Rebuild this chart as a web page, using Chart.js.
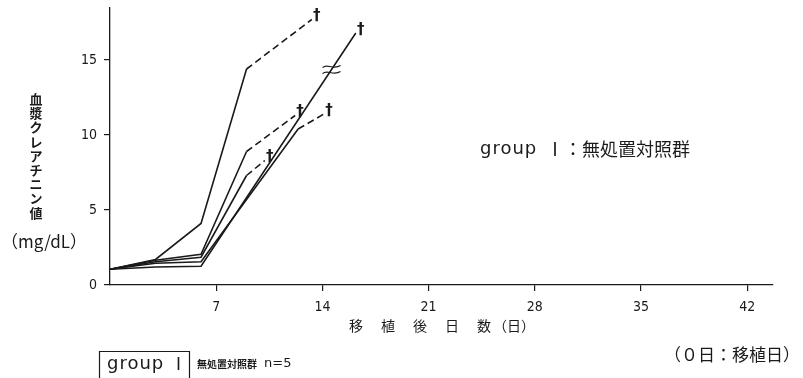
<!DOCTYPE html>
<html>
<head>
<meta charset="utf-8">
<script src="https://cdn.jsdelivr.net/npm/chart.js@4.4.1/dist/chart.umd.min.js"></script>
<style>
  html, body { margin: 0; padding: 0; background: #fff; }
  #wrap { width: 803px; height: 378px; position: relative; }
</style>
</head>
<body>
<div id="wrap"><canvas id="creatChart" width="803" height="378"></canvas></div>
<script>
// serum creatinine (mg/dL) per animal, by day after transplant
const daysA = [0, 3, 6, 9, 13.3];
const creatA = [1.05, 1.7, 4.1, 14.4, 17.7];
const daysB = [0, 3, 6, 9, 12.2];
const creatB = [1.05, 1.65, 2.05, 8.9, 11.3];
const daysC = [0, 3, 6, 9, 10.2];
const creatC = [1.05, 1.55, 1.85, 7.3, 8.3];
const daysD = [0, 3, 6, 12.4, 14.1];
const creatD = [1.05, 1.45, 1.55, 10.4, 11.4];
const daysE = [0, 3, 6, 16.2];
const creatE = [1.05, 1.2, 1.25, 16.8];
// last segment drawn dashed (animal died before next measurement)
const dashedTail = [true, true, true, true, false];
const breakDay = 14.6; // axis break mark on rat E

const xTicks = [7, 14, 21, 28, 35, 42];
const yTicks = [0, 5, 10, 15];

const INK = "#1a1a1a";
const CJK = "'Noto Sans CJK JP', 'Noto Sans', sans-serif";
const NUM = "'DejaVu Sans Condensed', 'Liberation Sans Narrow', 'DejaVu Sans', sans-serif";

const allDays = [daysA, daysB, daysC, daysD, daysE];
const allCreat = [creatA, creatB, creatC, creatD, creatE];

const datasets = allDays.map((days, i) => {
  const pts = days.map((d, j) => ({ x: d, y: allCreat[i][j] }));
  const last = pts.length - 1;
  return {
    data: pts,
    showLine: true,
    borderColor: INK,
    borderWidth: 1.6,
    pointRadius: 0,
    tension: 0,
    segment: {
      borderDash: ctx => (dashedTail[i] && ctx.p1DataIndex === last) ? [7, 4] : undefined
    }
  };
});

// daggers at each endpoint, break mark, titles and labels
const annotations = {
  id: "annotations",
  afterDatasetsDraw(chart) {
    const ctx = chart.ctx;
    const xs = chart.scales.x, ys = chart.scales.y;
    ctx.save();
    ctx.fillStyle = INK;
    ctx.strokeStyle = INK;

    // † at the end of every line
    ctx.font = "bold 15px 'DejaVu Sans', sans-serif";
    ctx.textAlign = "center";
    ctx.textBaseline = "middle";
    chart.data.datasets.forEach((ds, i) => {
      const meta = chart.getDatasetMeta(i);
      const p = meta.data[meta.data.length - 1];
      ctx.fillText("\u2020", p.x + 5, p.y - 3);
    });

    // ≈ break on the long line
    const dE = daysE, cE = creatE;
    let k = 0;
    while (k < dE.length - 2 && dE[k + 1] < breakDay) k++;
    const t = (breakDay - dE[k]) / (dE[k + 1] - dE[k]);
    const bv = cE[k] + t * (cE[k + 1] - cE[k]);
    const bx = xs.getPixelForValue(breakDay), by = ys.getPixelForValue(bv);
    ctx.lineWidth = 1.2;
    [-3, 3].forEach(off => {
      ctx.beginPath();
      ctx.moveTo(bx - 9, by + off + 1);
      ctx.bezierCurveTo(bx - 4, by + off - 4, bx + 1, by + off + 4, bx + 9, by + off - 1);
      ctx.stroke();
    });

    // y title, characters stacked
    ctx.font = "bold 13px " + CJK;
    ctx.textAlign = "center";
    const yTitle = "血漿クレアチニン値";
    [...yTitle].forEach((ch, i) => ctx.fillText(ch, 36, 99 + i * 14.2));
    ctx.font = "17px " + CJK;
    ctx.fillText("（mg/dL）", 44, 242);

    // x title
    ctx.font = "14px " + CJK;
    const xTitle = ["移", "植", "後", "日", "数"];
    xTitle.forEach((ch, i) => ctx.fillText(ch, 356 + i * 32, 326));
    ctx.fillText("（日）", 514, 326);

    // group label inside plot
    ctx.textAlign = "left";
    ctx.letterSpacing = "1px";
    ctx.font = "18px 'DejaVu Sans', sans-serif";
    ctx.fillText("group", 480, 149);
    ctx.letterSpacing = "0px";
    ctx.font = "18px " + CJK;
    ctx.fillText("Ⅰ：無処置対照群", 546, 149);

    // legend box at bottom
    ctx.lineWidth = 1.2;
    ctx.beginPath();
    ctx.moveTo(99.5, 378);
    ctx.lineTo(99.5, 351.5);
    ctx.lineTo(189.5, 351.5);
    ctx.lineTo(189.5, 378);
    ctx.stroke();
    ctx.letterSpacing = "1px";
    ctx.font = "18px 'DejaVu Sans', sans-serif";
    ctx.fillText("group", 107, 364);
    ctx.letterSpacing = "0px";
    ctx.font = "17px " + CJK;
    ctx.fillText("Ⅰ", 170, 364);
    ctx.font = "bold 10px " + CJK;
    ctx.fillText("無処置対照群", 197, 364);
    ctx.font = "13px 'DejaVu Sans', sans-serif";
    ctx.fillText("n=5", 264, 364);

    ctx.textAlign = "right";
    ctx.font = "17px " + CJK;
    ctx.fillText("（０日：移植日）", 800, 355);
    ctx.restore();
  }
};

// keep the plot area fixed: no extra room for half-height edge labels
const noEdgePadding = s => {
  s.paddingTop = 0; s.paddingBottom = 0;
  s.paddingLeft = 0; s.paddingRight = 0;
};

new Chart(document.getElementById("creatChart"), {
  type: "scatter",
  data: { datasets },
  options: {
    responsive: false,
    animation: false,
    events: [],
    layout: { padding: { top: 7.5, right: 30, left: 0, bottom: 0 } },
    plugins: { legend: { display: false }, tooltip: { enabled: false } },
    scales: {
      x: {
        type: "linear",
        min: 0,
        max: 43.7,
        afterFit: s => { s.height = 93; noEdgePadding(s); },
        afterBuildTicks: s => { s.ticks = xTicks.map(v => ({ value: v })); },
        grid: { drawOnChartArea: false, drawTicks: true, tickLength: 6, color: INK, lineWidth: 1.2 },
        border: { display: true, color: INK, width: 1.3 },
        ticks: { color: INK, font: { family: NUM, size: 14 }, padding: 8, maxRotation: 0 }
      },
      y: {
        type: "linear",
        min: 0,
        max: 18.5,
        afterFit: s => { s.width = 110; noEdgePadding(s); },
        afterBuildTicks: s => { s.ticks = yTicks.map(v => ({ value: v })); },
        grid: { drawOnChartArea: false, drawTicks: true, tickLength: 6, color: INK, lineWidth: 1.2 },
        border: { display: true, color: INK, width: 1.3 },
        ticks: { color: INK, font: { family: NUM, size: 14 }, padding: 7 }
      }
    }
  },
  plugins: [annotations]
});
</script>
</body>
</html>
